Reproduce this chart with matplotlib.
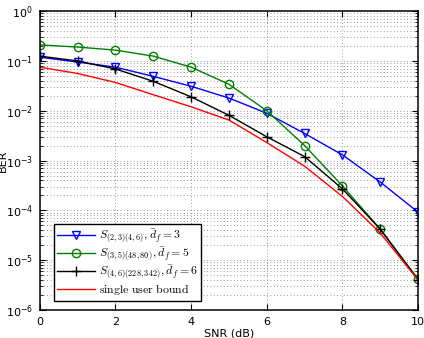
import numpy as np
from matplotlib import pyplot as plt
from matplotlib.ticker import LogLocator, NullFormatter

snr = [0, 1, 2, 3, 4, 5, 6, 7, 8, 9, 10]
ber_s1 = [0.119, 0.095, 0.075, 0.049, 0.031, 0.018, 0.0089, 0.0035, 0.0013, 3.7e-4, 9.2e-5]
ber_s2 = [0.21, 0.19, 0.165, 0.125, 0.075, 0.034, 0.0100, 0.0020, 3.1e-4, 4.2e-5, 4.2e-6]
ber_s3 = [0.125, 0.10, 0.069, 0.039, 0.019, 0.0081, 0.0030, 0.0012, 2.7e-4, 4.2e-5, 4.0e-6]
ber_bound = [0.075, 0.056, 0.037, 0.021, 0.012, 0.0065, 0.0023, 7.7e-4, 1.9e-4, 3.5e-5, 4.0e-6]

labels = [r'$S_{(2,3)(4,6)}, \bar{d}_f = 3$',
          r'$S_{(3,5)(48,80)}, \bar{d}_f = 5$',
          r'$S_{(4,6)(228,342)}, \bar{d}_f = 6$',
          r'$\mathrm{single\ user\ bound}$']

fig = plt.figure(figsize=(4.24, 3.38), dpi=100)
ax = fig.add_axes([0.094, 0.083, 0.892, 0.884])

ax.semilogy(snr, ber_s1, 'b-v', lw=1, ms=6, mfc='none', mew=1, label=labels[0])
ax.semilogy(snr, ber_s2, '-o', color='#008000', lw=1, ms=6, mfc='none', mew=1, label=labels[1])
ax.semilogy(snr, ber_s3, 'k-+', lw=1, ms=7, mew=1, label=labels[2])
ax.semilogy(snr, ber_bound, 'r-', lw=1, label=labels[3])

ax.set_xlim(0, 10)
ax.set_ylim(1e-6, 1)
ax.set_xticks([0, 2, 4, 6, 8, 10])
ax.yaxis.set_major_locator(LogLocator(base=10, numticks=10))
ax.yaxis.set_minor_locator(LogLocator(base=10, subs=np.arange(2, 10), numticks=20))
ax.yaxis.set_minor_formatter(NullFormatter())
ax.tick_params(which='both', direction='in', top=True, right=True, labelsize=8)
ax.tick_params(which='major', length=4, pad=5)
ax.tick_params(which='minor', length=2)
for s in ax.spines.values():
    s.set_linewidth(1.1)
ax.grid(which='major', ls=(0, (1, 3)), color='#777777', lw=0.6)
ax.grid(which='minor', axis='y', ls=(0, (1, 3)), color='#777777', lw=0.6)

ax.set_xlabel('SNR (dB)', fontsize=8, labelpad=1)
ax.set_ylabel('BER', fontsize=8)
ax.yaxis.set_label_coords(-0.085, 0.5)

leg = ax.legend(loc='lower left', bbox_to_anchor=(0.037, 0.03), borderaxespad=0,
                prop={'math_fontfamily': 'cm', 'size': 8.5}, fancybox=False,
                edgecolor='k', framealpha=1, borderpad=0.3, labelspacing=0.1,
                handlelength=3.2, handletextpad=0.3)
leg.get_frame().set_linewidth(1)

fig.savefig('out.png')
